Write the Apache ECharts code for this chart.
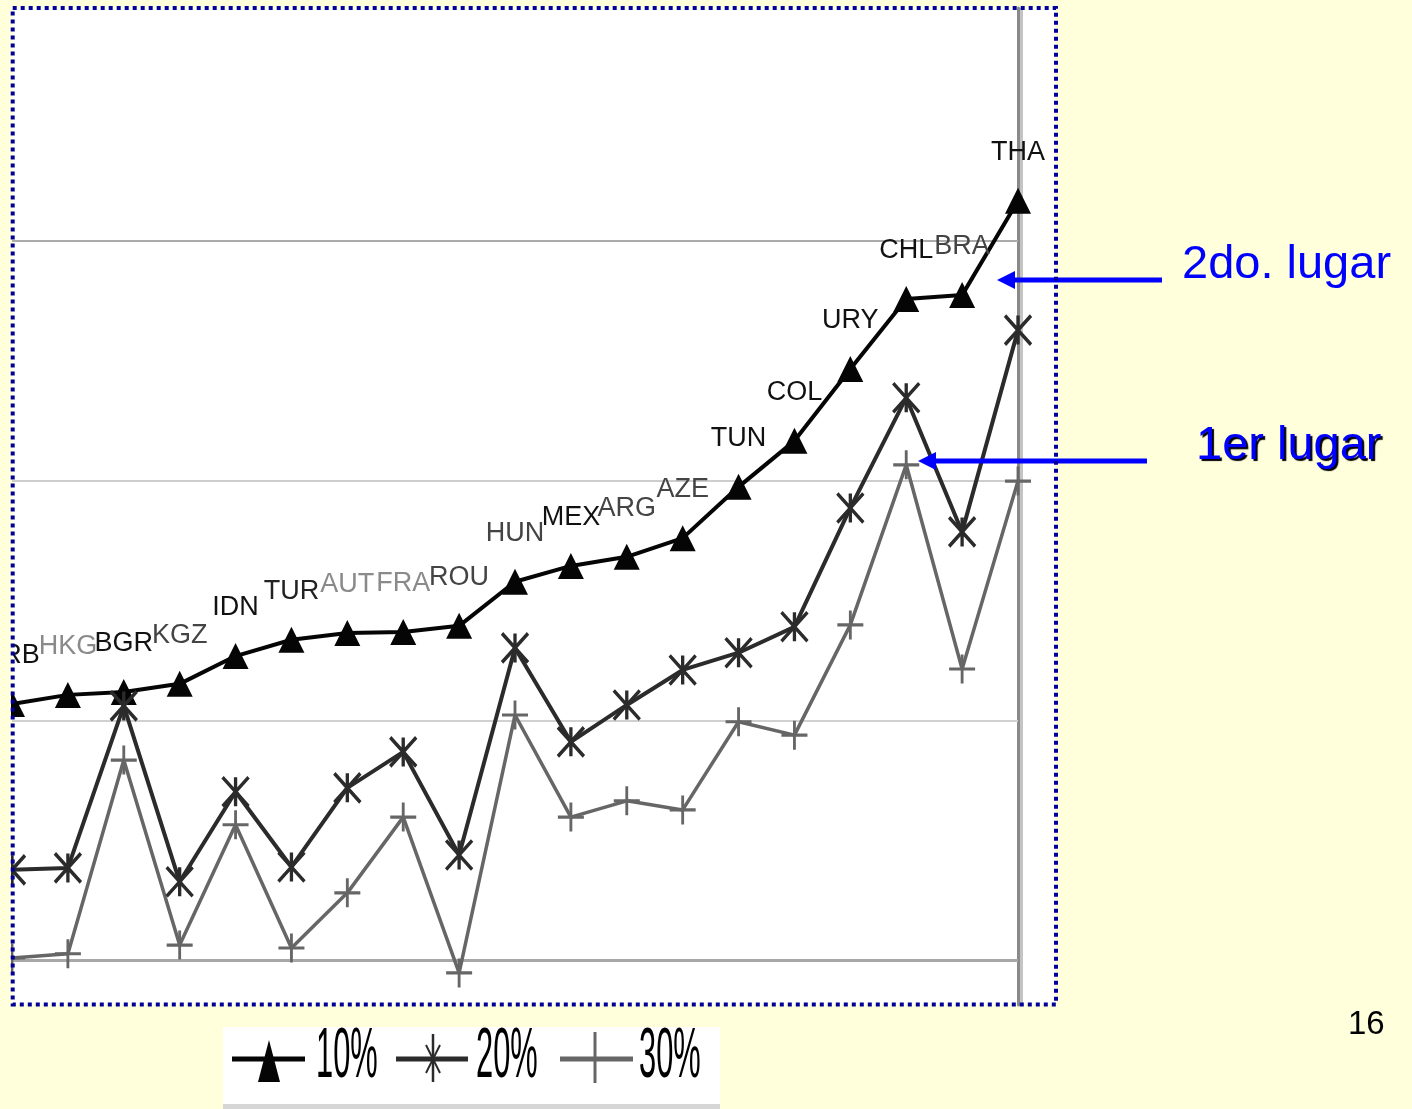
<!DOCTYPE html>
<html>
<head>
<meta charset="utf-8">
<script src="https://cdn.jsdelivr.net/npm/echarts@6/dist/echarts.min.js"></script>
<style>
  html, body { margin: 0; padding: 0; background: #FFFFDC; }
  #chart { width: 1412px; height: 1109px; }
</style>
</head>
<body>
<div id="chart"></div>
<script>
// ---- data ----
const categories = ['SRB','HKG','BGR','KGZ','IDN','TUR','AUT','FRA','ROU','HUN','MEX','ARG','AZE','TUN','COL','URY','CHL','BRA','THA'];
const s10 = [5.34,5.53,5.59,5.76,6.34,6.68,6.82,6.84,6.97,7.89,8.22,8.41,8.80,9.87,10.83,12.33,13.79,13.87,15.84];
const s20 = [1.88,1.92,5.30,1.63,3.51,1.94,3.59,4.34,2.19,6.51,4.55,5.32,6.05,6.41,6.95,9.43,11.73,8.93,13.14];
const s30 = [0.04,0.13,4.17,0.31,2.82,0.25,1.40,2.98,-0.27,5.11,2.98,3.32,3.13,4.97,4.69,6.99,10.33,6.07,9.99];
const seriesNames = ['10%','20%','30%'];
const gridValues = [0, 5, 10, 15];
const annotations = ['2do. lugar', '1er lugar'];
const pageNumber = '16';

// ---- styles ----
const FONT = 'Liberation Sans, Arial, Helvetica, sans-serif';
const YELLOW = '#FFFFDC';
const labelTone = { HKG: '#8a8a8a', AUT: '#8a8a8a', FRA: '#8a8a8a', ROU: '#444', KGZ: '#444', HUN: '#444', ARG: '#444', AZE: '#444', BRA: '#444', TUR: '#222' };
const gridStyles = [
  { color: '#a8a8a8', width: 3 },
  { color: '#d0d0d0', width: 2 },
  { color: '#cdcdcd', width: 2 },
  { color: '#ababab', width: 2 }
];
const STAR = 'path://M0,0L26,29M26,0L0,29M13,0L13,29';
const PLUS = 'path://M13,0L13,29M0,14.5L26,14.5';

const chart = echarts.init(document.getElementById('chart'), null, { renderer: 'canvas' });

const data10 = s10.map((v, i) => ({
  value: v,
  label: { color: labelTone[categories[i]] || '#111' }
}));

const option = {
  animation: false,
  backgroundColor: YELLOW,
  grid: { left: 12, right: 394, top: 8, bottom: 104 },
  xAxis: {
    type: 'category',
    data: categories,
    boundaryGap: false,
    axisLine: { show: false },
    axisTick: { show: false },
    axisLabel: { show: false },
    splitLine: { show: false }
  },
  yAxis: {
    type: 'value',
    position: 'right',
    min: -0.94,
    max: 19.86,
    axisLine: { show: true, lineStyle: { color: '#8a8a8a', width: 3 } },
    axisTick: { show: false },
    axisLabel: { show: false },
    splitLine: { show: false }
  },
  series: [
    {
      name: seriesNames[0],
      type: 'line',
      data: data10,
      symbol: 'triangle',
      symbolSize: [26, 26],
      itemStyle: { color: '#050505' },
      lineStyle: { color: '#050505', width: 4 },
      label: {
        show: true,
        position: 'top',
        distance: 22,
        formatter: p => p.name,
        fontSize: 27,
        fontFamily: FONT
      },
      markLine: {
        z: 1,
        silent: true,
        symbol: ['none', 'none'],
        label: { show: false },
        emphasis: { disabled: true },
        data: gridValues.map((g, i) => ({ yAxis: g, lineStyle: { type: 'solid', color: gridStyles[i].color, width: gridStyles[i].width } }))
      }
    },
    {
      name: seriesNames[1],
      type: 'line',
      data: s20,
      symbol: STAR,
      symbolSize: [26, 29],
      itemStyle: { color: '#2b2b2b', borderColor: '#2b2b2b', borderWidth: 3.5 },
      lineStyle: { color: '#2b2b2b', width: 4 }
    },
    {
      name: seriesNames[2],
      type: 'line',
      data: s30,
      symbol: PLUS,
      symbolSize: [26, 29],
      itemStyle: { color: '#666666', borderColor: '#666666', borderWidth: 3 },
      lineStyle: { color: '#666666', width: 3.5 }
    }
  ],
  graphic: [
    // white plot background
    { type: 'rect', z: -10, shape: { x: 12.7, y: 8, width: 1043.3, height: 996.5 }, style: { fill: '#ffffff' } },
    // light edge of vertical axis
    { type: 'line', z: 1, shape: { x1: 1021.5, y1: 8, x2: 1021.5, y2: 1005 }, style: { stroke: '#c4c4c4', lineWidth: 3 } },
    // crop cover on the left
    { type: 'rect', z: 90, shape: { x: 0, y: 0, width: 11, height: 1109 }, style: { fill: YELLOW } },
    // dotted border
    { type: 'rect', z: 100, shape: { x: 12.7, y: 8, width: 1043.3, height: 996.5 }, style: { fill: 'none', stroke: '#000099', lineWidth: 4, lineDash: [4, 4] } },

    // arrows
    { type: 'line', z: 20, shape: { x1: 1162, y1: 280, x2: 1010, y2: 280 }, style: { stroke: '#0000FF', lineWidth: 5 } },
    { type: 'polygon', z: 20, shape: { points: [[997, 280], [1015, 271], [1015, 289]] }, style: { fill: '#0000FF' } },
    { type: 'line', z: 20, shape: { x1: 1147, y1: 461, x2: 932, y2: 461 }, style: { stroke: '#0000FF', lineWidth: 5 } },
    { type: 'polygon', z: 20, shape: { points: [[918, 461], [936, 452], [936, 470]] }, style: { fill: '#0000FF' } },

    // annotation texts
    { type: 'text', z: 20, style: { x: 1182, y: 265, text: annotations[0], fill: '#0000FF', font: '47px ' + FONT, textAlign: 'left', textVerticalAlign: 'middle' } },
    { type: 'text', z: 20, style: { x: 1196, y: 446, text: annotations[1], fill: '#0000FF', font: '47px ' + FONT, textAlign: 'left', textVerticalAlign: 'middle', textShadowColor: '#000000', textShadowOffsetX: 2, textShadowOffsetY: 2, textShadowBlur: 1, shadowColor: '#000000', shadowOffsetX: 2, shadowOffsetY: 2, shadowBlur: 1 } },
    { type: 'text', z: 20, style: { x: 1348, y: 1025, text: pageNumber, fill: '#000', font: '33px ' + FONT, textAlign: 'left', textVerticalAlign: 'middle' } },

    // legend box
    { type: 'rect', z: 10, shape: { x: 223, y: 1027, width: 497, height: 82 }, style: { fill: '#ffffff' } },
    { type: 'rect', z: 11, shape: { x: 223, y: 1104, width: 497, height: 5 }, style: { fill: '#d6d6d6' } },
    // item 1
    { type: 'line', z: 12, shape: { x1: 232, y1: 1059, x2: 305, y2: 1059 }, style: { stroke: '#050505', lineWidth: 5 } },
    { type: 'polygon', z: 13, shape: { points: [[269, 1040], [280, 1082], [258, 1082]] }, style: { fill: '#050505' } },
    { type: 'text', z: 13, x: 316, y: 1058, scaleX: 0.44, style: { x: 0, y: 0, text: seriesNames[0], fill: '#000', font: '70px ' + FONT, textAlign: 'left', textVerticalAlign: 'middle' } },
    // item 2
    { type: 'line', z: 12, shape: { x1: 396, y1: 1059, x2: 468, y2: 1059 }, style: { stroke: '#2b2b2b', lineWidth: 5 } },
    { type: 'line', z: 13, shape: { x1: 433, y1: 1034, x2: 433, y2: 1082 }, style: { stroke: '#2b2b2b', lineWidth: 2.5 } },
    { type: 'line', z: 13, shape: { x1: 426, y1: 1045, x2: 440, y2: 1073 }, style: { stroke: '#2b2b2b', lineWidth: 2 } },
    { type: 'line', z: 13, shape: { x1: 440, y1: 1045, x2: 426, y2: 1073 }, style: { stroke: '#2b2b2b', lineWidth: 2 } },
    { type: 'text', z: 13, x: 476, y: 1058, scaleX: 0.44, style: { x: 0, y: 0, text: seriesNames[1], fill: '#000', font: '70px ' + FONT, textAlign: 'left', textVerticalAlign: 'middle' } },
    // item 3
    { type: 'line', z: 12, shape: { x1: 560, y1: 1059, x2: 633, y2: 1059 }, style: { stroke: '#666666', lineWidth: 5 } },
    { type: 'line', z: 13, shape: { x1: 595, y1: 1032, x2: 595, y2: 1083 }, style: { stroke: '#666666', lineWidth: 3 } },
    { type: 'text', z: 13, x: 639, y: 1058, scaleX: 0.44, style: { x: 0, y: 0, text: seriesNames[2], fill: '#000', font: '70px ' + FONT, textAlign: 'left', textVerticalAlign: 'middle' } }
  ]
};

chart.setOption(option);
</script>
</body>
</html>
